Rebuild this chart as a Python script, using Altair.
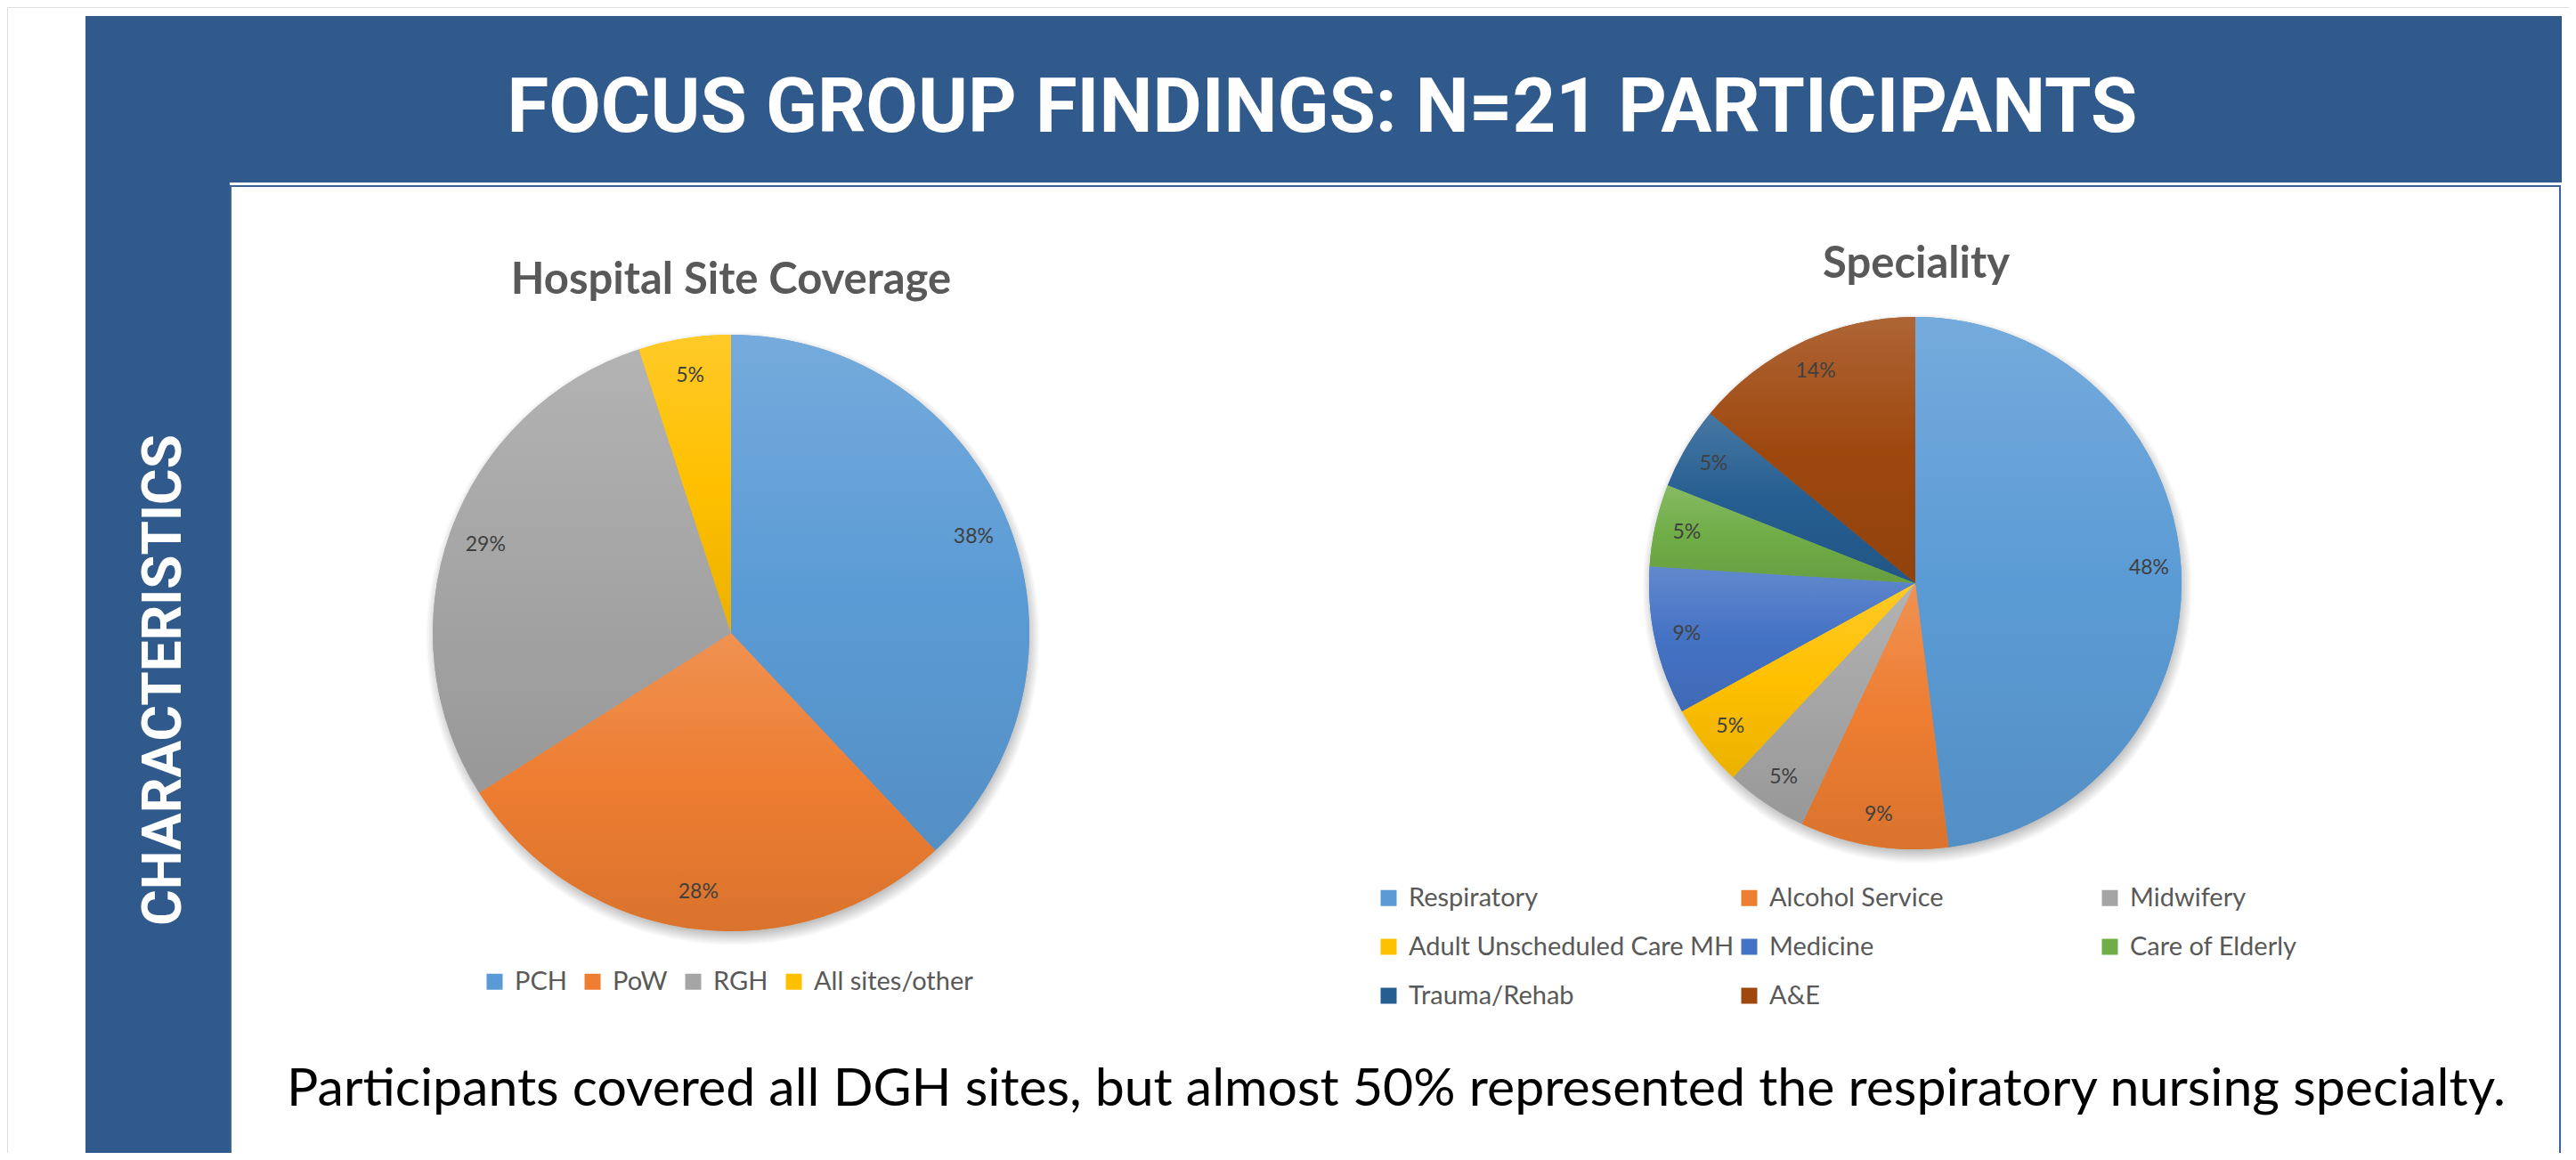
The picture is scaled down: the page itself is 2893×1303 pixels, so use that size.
import math
import altair as alt
import pandas as pd

# ---------------- data ----------------
sites = ["PCH", "PoW", "RGH", "All sites/other"]
site_pct = [38, 28, 29, 5]

specs = ["Respiratory", "Alcohol Service", "Midwifery", "Adult Unscheduled Care MH",
         "Medicine", "Care of Elderly", "Trauma/Rehab", "A&E"]
spec_pct = [48, 9, 5, 5, 9, 5, 5, 14]

banner_title = "FOCUS GROUP FINDINGS: N=21 PARTICIPANTS"
side_label = "CHARACTERISTICS"
left_title = "Hospital Site Coverage"
right_title = "Speciality"
footer = "Participants covered all DGH sites, but almost 50% represented the respiratory nursing specialty."

# ---------------- style ----------------
site_colors = ["#5B9BD5", "#ED7D31", "#A5A5A5", "#FFC000"]
spec_colors = ["#5B9BD5", "#ED7D31", "#A5A5A5", "#FFC000",
               "#4472C4", "#70AD47", "#255E91", "#9E480E"]
NAVY = "#305A8B"
W, H = 2877, 1287
OX, OY = 8, 8  # page margin offset


def mix(c, o, t):
    a = [int(c[i:i + 2], 16) for i in (1, 3, 5)]
    b = [int(o[i:i + 2], 16) for i in (1, 3, 5)]
    m = [round(x + (y - x) * t) for x, y in zip(a, b)]
    return "#%02x%02x%02x" % tuple(m)


def grad(c):
    return alt.LinearGradient(
        gradient="linear", x1=0, y1=0, x2=0, y2=1,
        stops=[alt.GradientStop(offset=0, color=mix(c, "#ffffff", 0.16)),
               alt.GradientStop(offset=0.5, color=c),
               alt.GradientStop(offset=1, color=mix(c, "#000000", 0.08))])


one = pd.DataFrame({"k": [0]})
theta_scale = alt.Scale(domain=[0, 100], range=[0, 2 * math.pi])


def px(v):
    return alt.value(v - OX)


def py(v):
    return alt.value(v - OY)


def pie(cats, vals, field, colors, cx, cy, r, lab_r, legend):
    df = pd.DataFrame({field: cats, "pct": vals, "order": list(range(len(cats)))})
    base = (alt.Chart(df)
            .transform_stack(stack="pct", groupby=[], as_=["start", "end"],
                             sort=[alt.SortField("order", order="ascending")])
            .transform_calculate(mid="(datum.start + datum.end) / 2",
                                 lab="datum.pct + '%'"))
    enc = dict(x=px(cx), y=py(cy),
               theta=alt.Theta("start:Q", scale=theta_scale),
               theta2=alt.Theta2("end:Q"))
    shadow = alt.Chart(one).mark_arc(
        radius=r + 10, theta=0, theta2=2 * math.pi,
        fill=alt.RadialGradient(
            gradient="radial", x1=0.5, y1=0.5, r1=0, x2=0.5, y2=0.5, r2=0.5,
            stops=[alt.GradientStop(offset=0, color="rgba(0,0,0,0.30)"),
                   alt.GradientStop(offset=(r - 6) / (r + 10), color="rgba(0,0,0,0.26)"),
                   alt.GradientStop(offset=1, color="rgba(0,0,0,0)")])
    ).encode(x=px(cx + 2), y=py(cy + 6))
    flat = base.mark_arc(radius=r).encode(
        color=alt.Color(f"{field}:N", scale=alt.Scale(domain=cats, range=colors),
                        sort=cats, legend=legend),
        **enc)
    layers = [shadow, flat]
    for cat, col in zip(cats, colors):
        layers.append(base.transform_filter(alt.datum[field] == cat)
                      .mark_arc(radius=r, fill=grad(col)).encode(**enc))
    layers.append(base.mark_text(radius=lab_r, font="Lato", fontSize=23, color="#404040",
                                 align="center", baseline="middle")
                  .encode(x=px(cx), y=py(cy),
                          theta=alt.Theta("mid:Q", scale=theta_scale),
                          text="lab:N"))
    return layers


leg_common = dict(title=None, orient="none", direction="horizontal", symbolType="square",
                  symbolSize=324, symbolStrokeWidth=0, labelFont="Lato", labelFontSize=29,
                  labelColor="#595959", labelOffset=8, labelLimit=600)

left_legend = alt.Legend(legendX=541 - OX, legendY=1088 - OY, columnPadding=14, **leg_common)
right_legend = alt.Legend(legendX=1545 - OX, legendY=994 - OY, columns=3, gridAlign="all",
                          columnPadding=2, rowPadding=25, **leg_common)

# ---------------- decorations ----------------
banner = alt.Chart(one).mark_rect(color=NAVY).encode(
    x=px(96), x2=px(2877), y=py(18), y2=py(205))
strip = alt.Chart(one).mark_rect(color=NAVY).encode(
    x=px(96), x2=px(258), y=py(205), y2=py(1303))
panel = alt.Chart(one).mark_rect(fill="white", stroke="#3C6496", strokeWidth=2).encode(
    x=px(259), x2=px(2875), y=py(209), y2=py(1310))

title_txt = alt.Chart(one).mark_text(
    text=banner_title, font="Roboto", fontWeight="bold", fontSize=85,
    color="white", align="center", baseline="alphabetic").encode(x=px(1485), y=py(148))
side_txt = alt.Chart(one).mark_text(
    text=side_label, font="Roboto", fontWeight="bold", fontSize=62,
    color="white", align="center", baseline="alphabetic", angle=270).encode(x=px(203), y=py(764))
lt = alt.Chart(one).mark_text(
    text=left_title, font="Lato", fontWeight="bold", fontSize=49, color="#595959",
    align="center", baseline="alphabetic").encode(x=px(821), y=py(330))
rt = alt.Chart(one).mark_text(
    text=right_title, font="Lato", fontWeight="bold", fontSize=49, color="#595959",
    align="center", baseline="alphabetic").encode(x=px(2152), y=py(312))
foot = alt.Chart(one).mark_text(
    text=footer, font="Lato", fontSize=59, color="#000000",
    align="center", baseline="alphabetic").encode(x=px(1568), y=py(1242))

layers = [banner, strip, panel, title_txt, side_txt, lt, rt, foot]
layers += pie(sites, site_pct, "site", site_colors, 821, 711, 335, 293, left_legend)
layers += pie(specs, spec_pct, "spec", spec_colors, 2151, 655, 299, 263, right_legend)

chart = (alt.layer(*layers)
         .resolve_scale(color="independent")
         .properties(width=W, height=H, padding=0,
                     autosize=alt.AutoSizeParams(type="none"))
         .configure_view(stroke=None)
         .configure(background="white"))

chart.save("out.html", embed_options={"renderer": "svg", "actions": False})
